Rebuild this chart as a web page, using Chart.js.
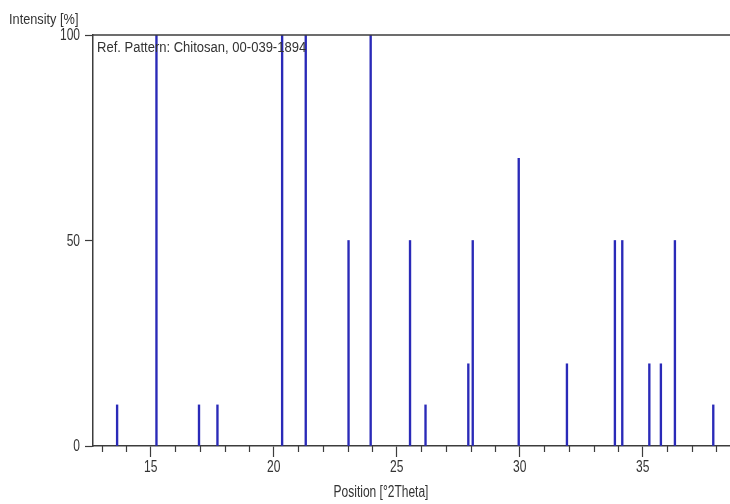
<!DOCTYPE html>
<html>
<head>
<meta charset="utf-8">
<script src="https://cdn.jsdelivr.net/npm/chart.js@4/dist/chart.umd.min.js"></script>
<style>
  html, body { margin: 0; padding: 0; background: #ffffff; }
  #wrap { width: 730px; height: 504px; position: relative; }
</style>
</head>
<body>
<div id="wrap"><canvas id="c"></canvas></div>
<script>
// Reference pattern lines: position (°2θ) and relative intensity (%)
const positions = [13.63, 15.23, 16.96, 17.71, 20.34, 21.30, 23.04, 23.94, 25.54, 26.17,
                   27.91, 28.09, 29.96, 31.92, 33.87, 34.17, 35.27, 35.74, 36.31, 37.87];
const intensities = [10, 100, 10, 10, 100, 100, 50, 100, 50, 10,
                     20, 50, 70, 20, 50, 50, 20, 20, 50, 10];
const yTicks = [0, 50, 100];
const xLabelStep = 5;
const xRange = [12.65, 38.55];

const patternName = 'Ref. Pattern: Chitosan, 00-039-1894';
const xTitle = 'Position [°2Theta]';
const yTitle = 'Intensity [%]';

const FONT = "'Liberation Sans', Arial, sans-serif";
const AXIS = '#3c3c3c';
const TEXT = '#333333';
const LINE_BLUE = '#2a2ab8';

const points = positions.map((p, i) => ({ x: p, y: intensities[i] }));

// condensed text: horizontal squeeze around the anchor point
function narrowText(ctx, str, x, y, align, baseline, sx, size) {
  ctx.save();
  ctx.font = size + 'px ' + FONT;
  ctx.fillStyle = TEXT;
  ctx.textAlign = align;
  ctx.textBaseline = baseline;
  ctx.translate(x, y);
  ctx.scale(sx, 1);
  ctx.fillText(str, 0, 0);
  ctx.restore();
}

// Frame top line, minor x ticks, tick labels and titles
const decor = {
  id: 'decor',
  afterDraw(chart) {
    const { ctx, chartArea: a } = chart;
    const xs = chart.scales.x;
    const ys = chart.scales.y;
    ctx.save();
    ctx.strokeStyle = AXIS;
    ctx.lineWidth = 1.5;
    ctx.beginPath();
    ctx.moveTo(a.left, a.top);
    ctx.lineTo(a.right, a.top);
    ctx.stroke();

    // minor ticks at each whole degree
    ctx.lineWidth = 1.2;
    xs.ticks.forEach(t => {
      if (t.value % xLabelStep !== 0) {
        const px = Math.round(xs.getPixelForValue(t.value)) + 0.5;
        ctx.beginPath();
        ctx.moveTo(px, a.bottom);
        ctx.lineTo(px, a.bottom + 6);
        ctx.stroke();
      }
    });
    ctx.restore();

    // x tick labels
    xs.ticks.forEach(t => {
      if (t.value % xLabelStep === 0) {
        narrowText(ctx, String(t.value), xs.getPixelForValue(t.value), 468, 'center', 'middle', 0.75, 16);
      }
    });
    // y tick labels
    ys.ticks.forEach(t => {
      narrowText(ctx, String(t.value), 80, ys.getPixelForValue(t.value) + 1, 'right', 'middle', 0.75, 16);
    });

    narrowText(ctx, yTitle, 9, 24, 'left', 'alphabetic', 0.85, 15);
    narrowText(ctx, patternName, 97, 52, 'left', 'alphabetic', 0.84, 15.5);
    narrowText(ctx, xTitle, 381, 497, 'center', 'alphabetic', 0.75, 16);
  }
};

new Chart(document.getElementById('c'), {
  type: 'bar',
  data: {
    datasets: [{
      data: points,
      backgroundColor: LINE_BLUE,
      borderWidth: 0,
      barThickness: 1.7,
      grouped: false
    }]
  },
  options: {
    responsive: true,
    maintainAspectRatio: false,
    animation: false,
    layout: { padding: { left: 0, top: 35, right: 0, bottom: 0 } },
    plugins: { legend: { display: false }, tooltip: { enabled: false } },
    scales: {
      x: {
        type: 'linear',
        min: xRange[0],
        max: xRange[1],
        offset: false,
        afterFit(s) { s.height = 58; },
        border: { display: true, color: AXIS, width: 1.5 },
        grid: {
          offset: false,
          drawOnChartArea: false,
          drawTicks: true,
          tickLength: 11,
          tickWidth: 1.2,
          tickColor: c => (c.tick && c.tick.value % xLabelStep === 0) ? AXIS : 'rgba(0,0,0,0)'
        },
        ticks: {
          display: false,
          stepSize: 1,
          autoSkip: false,
          includeBounds: false,
          maxRotation: 0
        }
      },
      y: {
        min: yTicks[0],
        max: yTicks[yTicks.length - 1],
        afterFit(s) { s.width = 93; },
        afterBuildTicks(s) { s.ticks = yTicks.map(v => ({ value: v })); },
        border: { display: true, color: AXIS, width: 1.5 },
        grid: {
          offset: false,
          drawOnChartArea: false,
          drawTicks: true,
          tickLength: 8,
          tickWidth: 1.2,
          tickColor: AXIS
        },
        ticks: { display: false }
      }
    }
  },
  plugins: [decor]
});
</script>
</body>
</html>
